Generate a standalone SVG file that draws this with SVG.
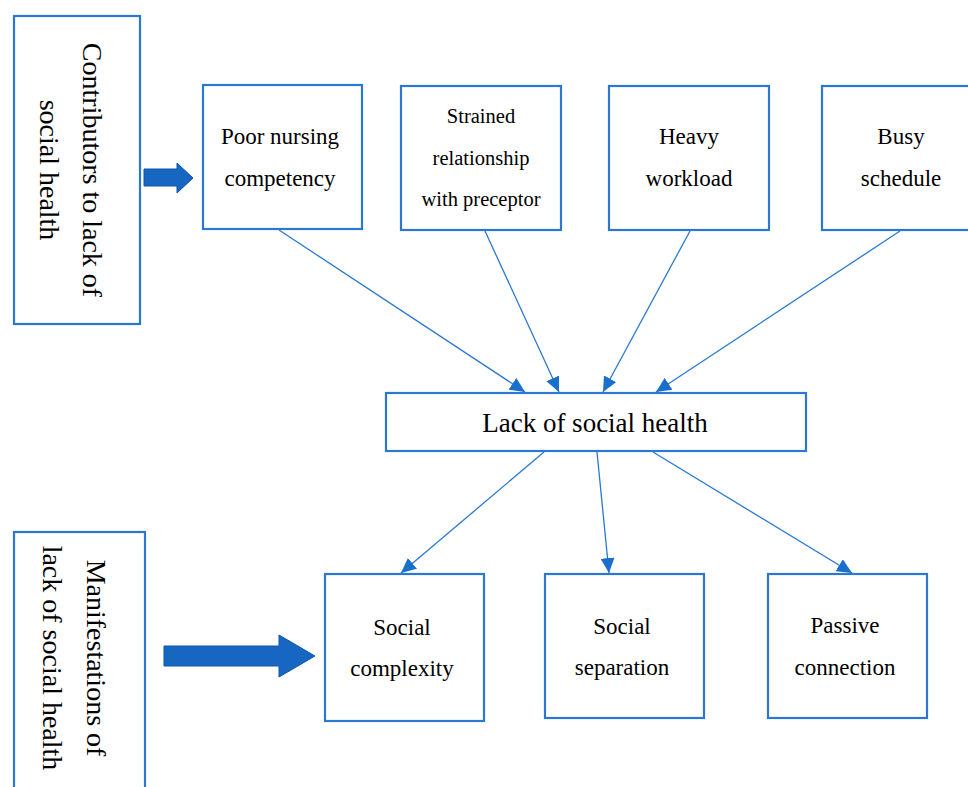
<svg xmlns="http://www.w3.org/2000/svg" width="968" height="787" viewBox="0 0 968 787">
<style>
.box{fill:#fff;stroke:#2A78D2;stroke-width:2.2}
.t{font-family:"Liberation Serif","Times New Roman",serif;fill:#000;text-anchor:middle}
.n{font-size:23px}
.s{font-size:20.5px}
.side{font-size:28px}
.main{font-size:27px}
.con{stroke:#2A78D2;stroke-width:1.3;fill:none;marker-end:url(#ah)}
.big{fill:#1766C2;stroke:#0F56A8;stroke-width:1}
</style>
<defs>
<marker id="ah" markerUnits="userSpaceOnUse" markerWidth="16" markerHeight="14" refX="15" refY="7" orient="auto">
<path d="M0,0 L15,7 L0,14 Z" fill="#1A6FCB"/>
</marker>
</defs>
<rect width="968" height="787" fill="#fff"/>
<g id="contributors-label">
<rect class="box" x="14" y="16" width="126" height="308"/>
<text class="t side" transform="translate(83,170) rotate(90)">Contributors to lack of</text>
<text class="t side" transform="translate(40,170) rotate(90)">social health</text>
</g>
<g id="manifestations-label">
<rect class="box" x="14" y="532" width="131" height="280"/>
<text class="t side" transform="translate(87,658) rotate(90)">Manifestations of</text>
<text class="t side" transform="translate(43,658) rotate(90)">lack of social health</text>
</g>
<g id="big-arrow-1">
<path class="big" d="M144,169 L177,169 L177,163 L193,178 L177,193 L177,186 L144,186 Z"/>
</g>
<g id="big-arrow-2">
<path class="big" d="M164,646 L279,646 L279,635 L315,656 L279,677 L279,666 L164,666 Z"/>
</g>
<g id="poor-nursing">
<rect class="box" x="203" y="85" width="159" height="144"/>
<text class="t n" x="280" y="144">Poor nursing</text>
<text class="t n" x="280" y="186">competency</text>
</g>
<g id="strained">
<rect class="box" x="401" y="86" width="160" height="144"/>
<text class="t s" x="481" y="123">Strained</text>
<text class="t s" x="481" y="165">relationship</text>
<text class="t s" x="481" y="206">with preceptor</text>
</g>
<g id="heavy">
<rect class="box" x="609" y="86" width="160" height="144"/>
<text class="t n" x="689" y="144">Heavy</text>
<text class="t n" x="689" y="186">workload</text>
</g>
<g id="busy">
<rect class="box" x="822" y="86" width="160" height="144"/>
<text class="t n" x="901" y="144">Busy</text>
<text class="t n" x="901" y="186">schedule</text>
</g>
<g id="lack">
<rect class="box" x="386" y="393" width="420" height="58"/>
<text class="t main" x="595" y="432">Lack of social health</text>
</g>
<g id="complexity">
<rect class="box" x="325" y="574" width="159" height="147"/>
<text class="t n" x="402" y="635">Social</text>
<text class="t n" x="402" y="676">complexity</text>
</g>
<g id="separation">
<rect class="box" x="545" y="574" width="159" height="144"/>
<text class="t n" x="622" y="634">Social</text>
<text class="t n" x="622" y="675">separation</text>
</g>
<g id="passive">
<rect class="box" x="768" y="574" width="159" height="144"/>
<text class="t n" x="845" y="633">Passive</text>
<text class="t n" x="845" y="675">connection</text>
</g>
<g id="connectors">
<line class="con" x1="279" y1="230" x2="525" y2="392"/>
<line class="con" x1="485" y1="231" x2="559" y2="392"/>
<line class="con" x1="690" y1="231" x2="603" y2="392"/>
<line class="con" x1="900" y1="231" x2="656" y2="392"/>
<line class="con" x1="544" y1="452" x2="401" y2="573"/>
<line class="con" x1="597" y1="452" x2="609" y2="573"/>
<line class="con" x1="653" y1="452" x2="852" y2="573"/>
</g>
</svg>
